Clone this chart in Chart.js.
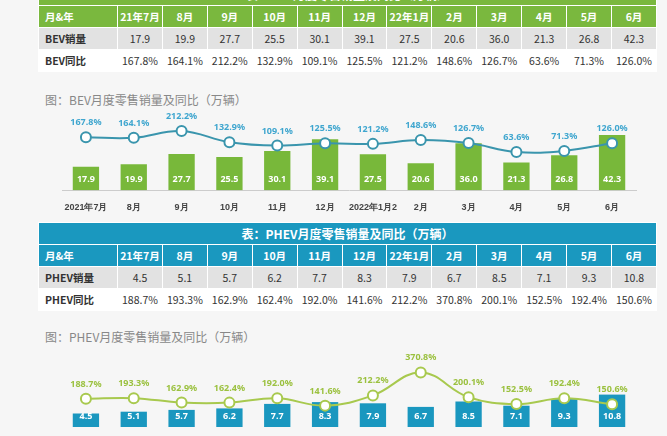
<!DOCTYPE html>
<html><head><meta charset="utf-8">
<script src="https://cdn.jsdelivr.net/npm/chart.js@4"></script>
<style>
body{margin:0;width:667px;height:436px;overflow:hidden;background:#f6f6f6;position:relative;font-family:"Noto Sans CJK SC","Noto Sans",sans-serif}
table{position:absolute;left:38px;width:619px;border-collapse:collapse;table-layout:fixed;font-size:10.5px}
td{height:21px;text-align:center;border:1px solid #fff;padding:0;color:#333;white-space:nowrap;overflow:hidden}
td:first-child{text-align:left;padding-left:6px;font-weight:bold}
.title{position:absolute;left:45px;font-size:12px;color:#888}
.box{position:absolute;left:55px;width:588px}
</style></head><body>
<table id="t1" style="top:-17px"></table>
<div class="title" style="top:91px">图：BEV月度零售销量及同比（万辆）</div>
<div class="box" style="top:105px;height:112px"><canvas id="c1"></canvas></div>
<table id="t2" style="top:222px"></table>
<div class="title" style="top:328px">图：PHEV月度零售销量及同比（万辆）</div>
<div class="box" style="top:345px;height:89px"><canvas id="c2"></canvas></div>
<script>
const headMonths = ["21年7月","8月","9月","10月","11月","12月","22年1月","2月","3月","4月","5月","6月"];
const axisMonths = ["2021年7月","8月","9月","10月","11月","12月","2022年1月2","2月","3月","4月","5月","6月"];
const bevSales = [17.9,19.9,27.7,25.5,30.1,39.1,27.5,20.6,36.0,21.3,26.8,42.3];
const bevYoy = [167.8,164.1,212.2,132.9,109.1,125.5,121.2,148.6,126.7,63.6,71.3,126.0];
const phevSales = [4.5,5.1,5.7,6.2,7.7,8.3,7.9,6.7,8.5,7.1,9.3,10.8];
const phevYoy = [188.7,193.3,162.9,162.4,192.0,141.6,212.2,370.8,200.1,152.5,192.4,150.6];

function buildTable(id, title, name, sales, yoy, color) {
  const t = document.getElementById(id);
  let h = `<colgroup><col style="width:79px">` + headMonths.map(() => "<col>").join("") + "</colgroup>";
  h += `<tr><td colspan="13" style="background:${color};color:#fff;text-align:center;font-size:12px;padding:0">${title}</td></tr>`;
  h += `<tr><td style="background:${color};color:#fff">月&年</td>` + headMonths.map(m => `<td style="background:${color};color:#fff;font-weight:bold">${m}</td>`).join("") + "</tr>";
  h += `<tr><td style="background:#e2e2e2">${name}销量</td>` + sales.map(v => `<td style="background:#e2e2e2">${v.toFixed(1)}</td>`).join("") + "</tr>";
  h += `<tr><td style="background:#fff">${name}同比</td>` + yoy.map(v => `<td style="background:#fff">${v.toFixed(1)}%</td>`).join("") + "</tr>";
  t.innerHTML = h;
}
buildTable("t1", "表：BEV月度零售销量及同比（万辆）", "BEV", bevSales, bevYoy, "#7ab83e");
buildTable("t2", "表：PHEV月度零售销量及同比（万辆）", "PHEV", phevSales, phevYoy, "#1a98bf");

const labelPlugin = {
  id: "labels",
  afterDatasetsDraw(chart, args, opts) {
    const ctx = chart.ctx;
    ctx.save();
    ctx.font = "bold 9px 'Noto Sans'";
    ctx.textAlign = "center";
    chart.getDatasetMeta(1).data.forEach((el, i) => {
      ctx.fillStyle = "#fff";
      ctx.fillText(chart.data.datasets[1].data[i].toFixed(1), el.x, chart.chartArea.bottom - 8);
    });
    chart.getDatasetMeta(0).data.forEach((el, i) => {
      ctx.fillStyle = opts.color;
      ctx.fillText(chart.data.datasets[0].data[i].toFixed(1) + "%", el.x, el.y - 12);
    });
    ctx.restore();
  }
};

function makeChart(id, sales, yoy, barColor, lineColor, lblColor, barMax, lMin, lMax, showX) {
  new Chart(document.getElementById(id), {
    type: "bar",
    data: {
      labels: axisMonths,
      datasets: [
        { type: "line", data: yoy, yAxisID: "y2", borderColor: lineColor, borderWidth: 2, tension: 0.4,
          pointRadius: 5, pointBackgroundColor: "#fff", pointBorderColor: lineColor, pointBorderWidth: 2 },
        { data: sales, yAxisID: "y", backgroundColor: barColor, barPercentage: 0.55, categoryPercentage: 1 }
      ]
    },
    options: {
      responsive: true, maintainAspectRatio: false, animation: false,
      layout: { padding: 0 },
      plugins: { legend: { display: false }, tooltip: { enabled: false }, labels: { color: lblColor } },
      scales: {
        x: { display: showX, grid: { display: false }, border: { color: "#ccc" },
             ticks: { color: "#444", font: { size: 9, weight: "bold" }, padding: 4, maxRotation: 0, autoSkip: false } },
        y: { display: false, min: 0, max: barMax },
        y2: { display: false, min: lMin, max: lMax }
      }
    },
    plugins: [labelPlugin]
  });
}
makeChart("c1", bevSales, bevYoy, "#78b83a", "#3a95ad", "#3fa6cf", 60, -207, 347, true);
makeChart("c2", phevSales, phevYoy, "#1a97bf", "#a8c94e", "#9bc13f", 25, -6, 512, false);
</script>
</body></html>
